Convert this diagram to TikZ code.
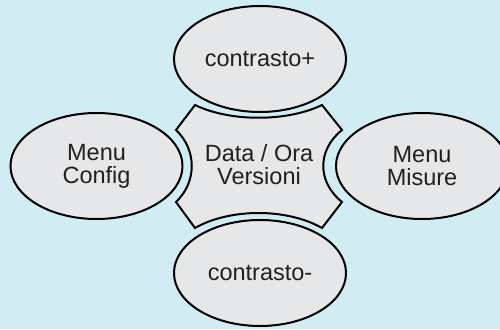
\documentclass[tikz,border=0pt]{standalone}
\usepackage{fontspec}
\setmainfont{Liberation Sans}
\usetikzlibrary{shapes.geometric}
\definecolor{bgcol}{HTML}{D1ECF3}
\definecolor{fillcol}{HTML}{E6E7E8}
\definecolor{txtcol}{HTML}{231F20}
\tikzset{
  oval/.style={ellipse, draw=black, line width=2pt, fill=fillcol, minimum width=172pt, minimum height=106pt, inner sep=0pt, align=center, text=txtcol, font=\fontsize{23.5}{23}\selectfont},
  cross/.style={draw=black, line width=2pt, fill=fillcol, line join=miter},
  lbl/.style={align=center, text=txtcol, font=\fontsize{23.5}{23}\selectfont, inner sep=0pt}
}
\begin{document}
\begin{tikzpicture}[x=1pt,y=-1pt]
\fill[bgcol] (0,0) rectangle (500,329);
\useasboundingbox (0,0) rectangle (500,329);
\clip (0,0) rectangle (500,329);
\node[oval] (top) at (260,59) {contrasto+};
\node[oval] (bottom) at (260,273) {contrasto-};
\node[oval] (left) at (96.5,166) {Menu\\Config};
\node[oval] (right) at (422,166) {Menu\\Misure};
\coordinate (tl) at (195,105);
\coordinate (tr) at (322,105);
\coordinate (rt) at (342,130);
\coordinate (rb) at (342,202);
\coordinate (br) at (322,228);
\coordinate (bl) at (195,228);
\coordinate (lb) at (176,202);
\coordinate (lt) at (176,130);
\draw[cross] (tl) .. controls (230,122) and (287,122) .. (tr)
  -- (rt) .. controls (317,150) and (317,182) .. (rb)
  -- (br) .. controls (287,208) and (230,208) .. (bl)
  -- (lb) .. controls (197,182) and (197,150) .. (lt) -- cycle;
\node[lbl] (center) at (259,165) {Data / Ora\\Versioni};
\end{tikzpicture}
\end{document}
